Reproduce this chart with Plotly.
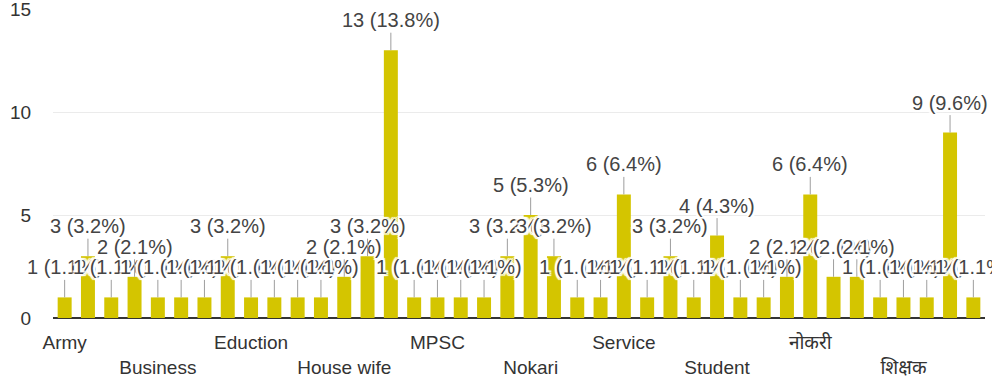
import plotly.graph_objects as go

# Responses per occupation (answers sorted alphabetically), 94 in total
counts = [1, 3, 1, 2, 1, 1, 1, 3, 1, 1,
          1, 1, 2, 3, 13, 1, 1, 1, 1, 3,
          5, 3, 1, 1, 6, 1, 3, 1, 4, 1,
          1, 2, 6, 2, 2, 1, 1, 1, 9, 1]

# Only every fourth answer gets an axis label
tick_labels = ["Army", "Business", "Eduction", "House wife", "MPSC",
               "Nokari", "Service", "Student", "नोकरी", "शिक्षक"]
label_step = 4

total = sum(counts)
positions = list(range(len(counts)))
tick_positions = positions[::label_step]
# alternate rows so neighbouring labels do not collide
tick_text = [t if k % 2 == 0 else "<br>" + t for k, t in enumerate(tick_labels)]

FONT = "Liberation Sans, Arial, Noto Sans, sans-serif"
BAR = "#d4c500"
# white outline around the value labels
HALO = ", ".join(
    f"white {dx}px {dy}px 1px"
    for dx, dy in [(2, 0), (-2, 0), (0, 2), (0, -2), (2, 2), (-2, -2), (2, -2), (-2, 2)]
)

fig = go.Figure(go.Bar(
    x=positions,
    y=counts,
    marker=dict(color=BAR, line=dict(width=0)),
    width=0.6,
    hoverinfo="skip",
))

for x, v in zip(positions, counts):
    pct = round(v / total * 100, 1)
    fig.add_annotation(
        x=x, y=v, xref="x", yref="y",
        text=f"{v} ({pct}%)",
        showarrow=True, arrowhead=0, arrowwidth=1, arrowcolor="#9e9e9e",
        ax=0, ay=-30, standoff=0,
        font=dict(family=FONT, size=20, color="#444444", shadow=HALO),
    )

fig.update_layout(
    width=992, height=387,
    margin=dict(l=53, r=7, t=9, b=69, autoexpand=False),
    paper_bgcolor="white", plot_bgcolor="white",
    showlegend=False,
    font=dict(family=FONT, size=20, color="#444444"),
    xaxis=dict(
        range=[-0.5, len(counts) - 0.5],
        tickmode="array", tickvals=tick_positions, ticktext=tick_text,
        showgrid=False, zeroline=False, showline=False,
        ticks="outside", ticklen=7, tickcolor="rgba(0,0,0,0)",
        tickangle=0, automargin=False,
        tickfont=dict(family=FONT, size=19, color="#333333"),
    ),
    yaxis=dict(
        range=[0, 15], tickvals=[0, 5, 10, 15],
        showgrid=True, gridcolor="#ebebeb", gridwidth=1,
        zeroline=True, zerolinecolor="#333333", zerolinewidth=2,
        showline=False, automargin=False,
        ticks="outside", ticklen=17, tickcolor="rgba(0,0,0,0)",
        ticklabeloverflow="allow",
        tickfont=dict(family=FONT, size=19, color="#333333"),
    ),
)

fig.write_html("out.html")
